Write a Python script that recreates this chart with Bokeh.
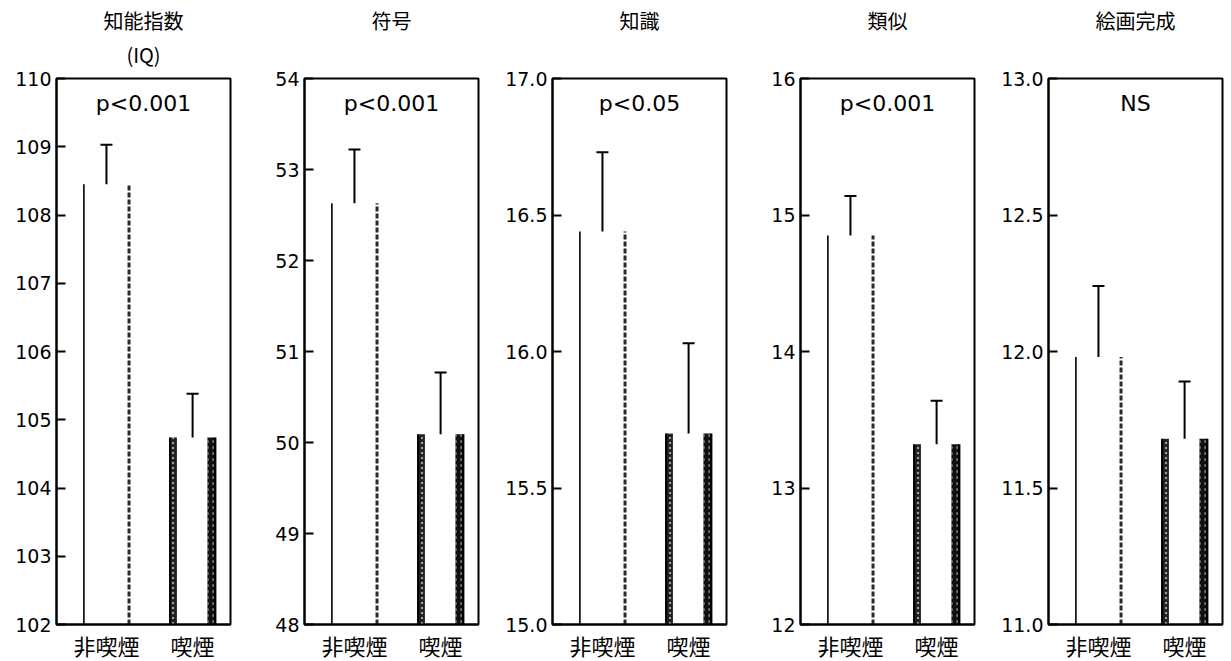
from bokeh.plotting import figure
from bokeh.layouts import row
from bokeh.models import (ColumnDataSource, Range1d, FixedTicker, Whisker, TeeHead, Label, Title)
from bokeh.embed import file_html
from bokeh.resources import INLINE

# ---------------- data ----------------
titles = ["知能指数", "符号", "知識", "類似", "絵画完成"]
subtitles = ["(IQ)", " ", " ", " ", " "]
groups = ["非喫煙", "喫煙"]
pvalues = ["p<0.001", "p<0.001", "p<0.05", "p<0.001", "NS"]
means_nonsmoker = [108.45, 52.63, 16.44, 14.85, 11.98]
means_smoker = [104.74, 50.09, 15.70, 13.32, 11.68]
sd_nonsmoker = [0.58, 0.59, 0.29, 0.29, 0.26]
sd_smoker = [0.64, 0.68, 0.33, 0.32, 0.21]
y_min = [102, 48, 15.0, 12, 11.0]
y_max = [110, 54, 17.0, 16, 13.0]
y_ticks = [
    [102, 103, 104, 105, 106, 107, 108, 109, 110],
    [48, 49, 50, 51, 52, 53, 54],
    [15.0, 15.5, 16.0, 16.5, 17.0],
    [12, 13, 14, 15, 16],
    [11.0, 11.5, 12.0, 12.5, 13.0],
]
y_tick_labels = [
    ["102", "103", "104", "105", "106", "107", "108", "109", "110"],
    ["48", "49", "50", "51", "52", "53", "54"],
    ["15.0", "15.5", "16.0", "16.5", "17.0"],
    ["12", "13", "14", "15", "16"],
    ["11.0", "11.5", "12.0", "12.5", "13.0"],
]

FONT = "Noto Sans CJK JP"
NUM_FONT = "DejaVu Sans"
X_POS = [1, 2]
HALF = 0.262          # half bar width (data units)
BAND_L = 0.08         # smoker left edge band width
BAND_R = 0.09         # smoker right edge band width

figs = []
for i in range(5):
    first = (i == 0)
    last = (i == 4)
    p = figure(frame_width=174, frame_height=546,
               output_backend="svg", toolbar_location=None,
               x_range=Range1d(0.42, 2.44),
               y_range=Range1d(y_min[i], y_max[i]),
               min_border_left=(56 if first else 50),
               min_border_right=(3 if last else 24),
               min_border_top=78, min_border_bottom=36,
               title=titles[i])
    p.title.text_font = FONT
    p.title.text_font_size = "20px"
    p.title.text_font_style = "normal"
    p.title.align = "center"
    p.title.text_color = "black"
    p.title.standoff = -14
    p.add_layout(Title(text=subtitles[i], align="center", text_font=FONT,
                       text_font_size="20px", text_font_style="normal",
                       text_color="black", standoff=20), "above")

    p.outline_line_color = "black"
    p.outline_line_width = 2
    p.outline_line_alpha = 1
    p.background_fill_color = "white"
    p.border_fill_color = "white"
    p.xgrid.visible = False
    p.ygrid.visible = False

    # y axis
    p.yaxis.ticker = FixedTicker(ticks=y_ticks[i])
    p.yaxis.major_label_overrides = {t: l for t, l in zip(y_ticks[i], y_tick_labels[i])}
    p.yaxis.major_tick_in = 9
    p.yaxis.major_tick_out = 0
    p.yaxis.minor_tick_line_color = None
    p.yaxis.axis_line_width = 2
    p.yaxis.major_tick_line_width = 2
    p.yaxis.axis_line_color = "black"
    p.yaxis.major_label_text_font = NUM_FONT
    p.yaxis.major_label_text_font_size = "19px"
    p.yaxis.major_label_text_color = "black"
    p.yaxis.major_label_standoff = 5

    # x axis
    p.xaxis.ticker = FixedTicker(ticks=X_POS)
    p.xaxis.major_label_overrides = {x: g for x, g in zip(X_POS, groups)}
    p.xaxis.major_tick_line_color = None
    p.xaxis.major_tick_in = 0
    p.xaxis.major_tick_out = 0
    p.xaxis.minor_tick_line_color = None
    p.xaxis.minor_tick_out = 0
    p.xaxis.axis_line_width = 2
    p.xaxis.axis_line_color = "black"
    p.xaxis.major_label_text_font = FONT
    p.xaxis.major_label_text_font_size = "22px"
    p.xaxis.major_label_text_color = "black"
    p.xaxis.major_label_standoff = 4

    base = y_min[i]
    ns = means_nonsmoker[i]
    sm = means_smoker[i]

    # non-smoker bar: thin left edge, dotted right edge (no top, white interior)
    p.segment(x0=[X_POS[0] - HALF], y0=[base], x1=[X_POS[0] - HALF], y1=[ns],
              line_color="black", line_width=1.6)
    p.segment(x0=[X_POS[0] + HALF], y0=[base], x1=[X_POS[0] + HALF], y1=[ns],
              line_color="#2a2a2a", line_width=3, line_dash="5 2")

    # smoker bar: thick stippled edges
    p.vbar(x=[X_POS[1] - HALF + BAND_L / 2], width=BAND_L, bottom=base, top=[sm],
           fill_color="#1e1e1e", line_color=None,
           hatch_pattern="dot", hatch_color="white", hatch_alpha=0.55, hatch_scale=5)
    p.vbar(x=[X_POS[1] + HALF - BAND_R / 2], width=BAND_R, bottom=base, top=[sm],
           fill_color="#111111", line_color=None,
           hatch_pattern="dot", hatch_color="white", hatch_alpha=0.45, hatch_scale=6)
    p.segment(x0=[X_POS[1] - HALF], y0=[base], x1=[X_POS[1] - HALF], y1=[sm],
              line_color="black", line_width=2)
    p.segment(x0=[X_POS[1] + HALF], y0=[base], x1=[X_POS[1] + HALF], y1=[sm],
              line_color="black", line_width=2.5)

    # upper error bars
    src = ColumnDataSource(data=dict(
        x=X_POS,
        lower=[ns, sm],
        upper=[ns + sd_nonsmoker[i], sm + sd_smoker[i]],
    ))
    p.add_layout(Whisker(source=src, base="x", lower="lower", upper="upper",
                         dimension="height", line_color="black", line_width=2,
                         upper_head=TeeHead(size=12, line_width=2, line_color="black"),
                         lower_head=None))

    # p-value label
    p.add_layout(Label(x=(0.42 + 2.44) / 2, y=y_max[i], y_offset=-25,
                       text=pvalues[i], text_align="center", text_baseline="middle",
                       text_font=NUM_FONT, text_font_size="22px", text_color="black"))
    figs.append(p)

layout = row(*figs, spacing=0)
open("out.html", "w").write(file_html(layout, INLINE))
